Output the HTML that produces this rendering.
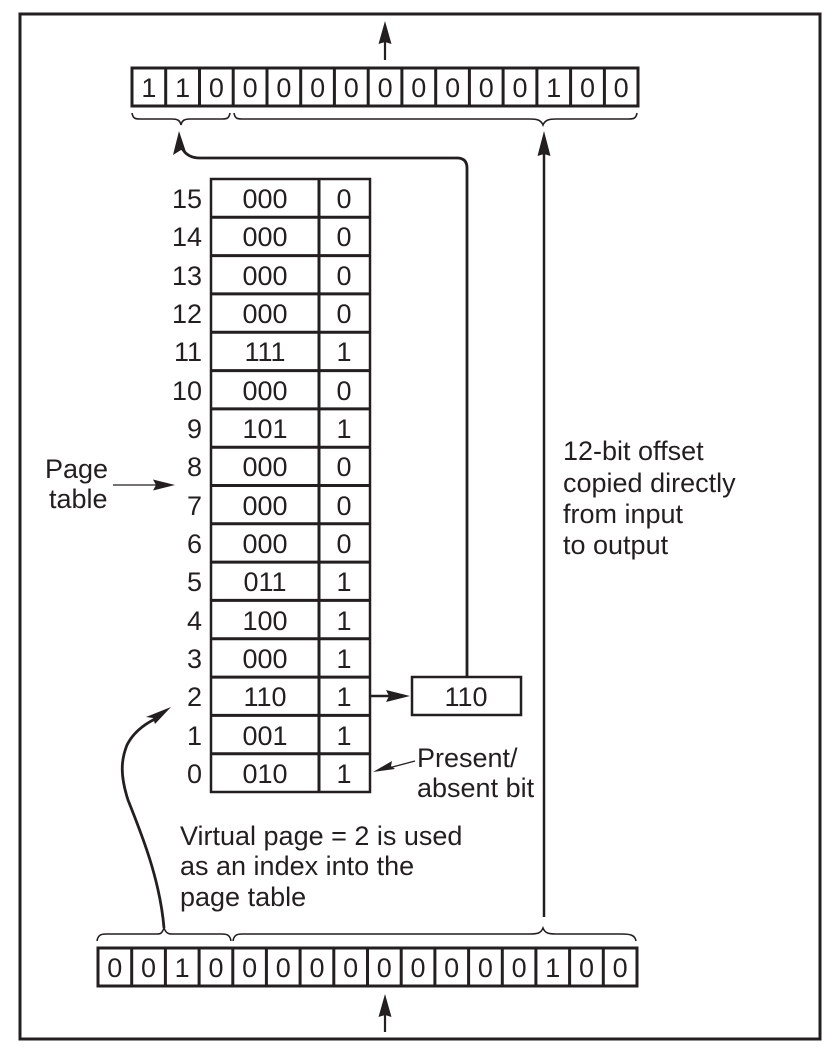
<!DOCTYPE html>
<html>
<head>
<meta charset="utf-8">
<style>
html,body{margin:0;padding:0;background:#fff;width:834px;height:1056px;overflow:hidden}
svg{display:block}
text{font-family:"Liberation Sans",sans-serif;font-size:27px;fill:#231f20}
.c{text-anchor:middle}
.r{text-anchor:end}
</style>
</head>
<body>
<svg width="834" height="1056" viewBox="0 0 834 1056" xmlns="http://www.w3.org/2000/svg">
<g fill="none" stroke="#231f20">
<rect x="20" y="14" width="800" height="1025" stroke-width="3"/>
<!-- top register -->
<rect x="132" y="68" width="506" height="38" stroke-width="3" fill="#fff"/>
<path stroke-width="3" d="M165.700 68V106M199.500 68V106M233.200 68V106M267 68V106M300.700 68V106M334.400 68V106M368.200 68V106M401.900 68V106M435.700 68V106M469.400 68V106M503.100 68V106M536.900 68V106M570.600 68V106M604.400 68V106"/>
<!-- bottom register -->
<rect x="98" y="948" width="539" height="38" stroke-width="3" fill="#fff"/>
<path stroke-width="3" d="M131.700 948V986M165.400 948V986M199.100 948V986M232.800 948V986M266.400 948V986M300.100 948V986M333.800 948V986M367.500 948V986M401.200 948V986M434.900 948V986M468.600 948V986M502.300 948V986M535.900 948V986M569.600 948V986M603.300 948V986"/>
<!-- table -->
<rect x="211" y="179" width="159" height="613" stroke-width="2.500" fill="#fff"/>
<path stroke-width="3" d="M319 179V792M211 217.300H370M211 255.600H370M211 293.900H370M211 332.300H370M211 370.600H370M211 408.900H370M211 447.200H370M211 485.500H370M211 523.800H370M211 562.100H370M211 600.400H370M211 638.800H370M211 677.100H370M211 715.400H370M211 753.700H370"/>
<rect x="412" y="677" width="109" height="38" stroke-width="2.500" fill="#fff"/>
<!-- braces -->
<path stroke-width="1.600" d="M132 113C133 119 136 119 140 119H172C177 119 180 120 181 125C182 120 185 119 190 119H222C226 119 229 119 230 113"/>
<path stroke-width="1.600" d="M234 113C235 119 238 119 242 119H530C537 119 541 120 543 125C545 120 549 119 556 119H628C633 119 636 119 637 113"/>
<path stroke-width="1.600" d="M97 941C98 935 101 934 106 934H157C161 934 162 933 164 928C166 933 168 934 172 934H222C227 934 230 935 231 941"/>
<path stroke-width="1.600" d="M233 941C234 935 237 934 242 934H530C538 934 541 933 543 928C545 933 548 934 556 934H622C630 934 635 935 636 941"/>
<!-- connectors -->
<path stroke-width="2.200" d="M385 60V40"/>
<path stroke-width="2.200" d="M385 1032V1012"/>
<path stroke-width="2.800" d="M467 677V168Q467 158 457 158H200Q187 158 182 148"/>
<path stroke-width="2.500" d="M544 917V150"/>
<path stroke-width="2.800" d="M164 928C160 880 142 835 128 800C120 775 121 760 127 745C133 733 143 725 155 719"/>
<path stroke-width="2.500" d="M371 696H395"/>
<path stroke-width="1.300" d="M113 485H160"/>
<path stroke-width="1.300" d="M415 761L385 769"/>
</g>
<g fill="#231f20" stroke="none">
<path d="M385 21L391.500 44L385 42L378.500 44Z"/>
<path d="M385 994L391.500 1017L385 1015L378.500 1017Z"/>
<path d="M544 131L550.500 156L544 154L537.500 156Z"/>
<path d="M179 131L186 152L181 150L173 155Z"/>
<path d="M410 696L386 702L389 696L386 690Z"/>
<path d="M171 707L155 724L153 718L146 717Z"/>
<path d="M175 485L153 490.500L156 485L153 479.500Z"/>
<path d="M373 772L392 761L391 766L395 769Z"/>
</g>
<g>
<text class="c" x="148.900" y="97">1</text><text class="c" x="182.600" y="97">1</text><text class="c" x="216.400" y="97">0</text><text class="c" x="250.100" y="97">0</text><text class="c" x="283.900" y="97">0</text><text class="c" x="317.600" y="97">0</text><text class="c" x="351.300" y="97">0</text><text class="c" x="385.100" y="97">0</text><text class="c" x="418.800" y="97">0</text><text class="c" x="452.600" y="97">0</text><text class="c" x="486.300" y="97">0</text><text class="c" x="520" y="97">0</text><text class="c" x="553.800" y="97">1</text><text class="c" x="587.500" y="97">0</text><text class="c" x="621.200" y="97">0</text>

<text class="c" x="114.800" y="977">0</text><text class="c" x="148.500" y="977">0</text><text class="c" x="182.200" y="977">1</text><text class="c" x="216" y="977">0</text><text class="c" x="249.600" y="977">0</text><text class="c" x="283.300" y="977">0</text><text class="c" x="317" y="977">0</text><text class="c" x="350.700" y="977">0</text><text class="c" x="384.300" y="977">0</text><text class="c" x="418" y="977">0</text><text class="c" x="451.700" y="977">0</text><text class="c" x="485.400" y="977">0</text><text class="c" x="519.100" y="977">0</text><text class="c" x="552.800" y="977">1</text><text class="c" x="586.500" y="977">0</text><text class="c" x="620.200" y="977">0</text>

<text class="r" x="202" y="208">15</text><text class="c" x="265" y="208">000</text><text class="c" x="344" y="208">0</text>
<text class="r" x="202" y="246">14</text><text class="c" x="265" y="246">000</text><text class="c" x="344" y="246">0</text>
<text class="r" x="202" y="285">13</text><text class="c" x="265" y="285">000</text><text class="c" x="344" y="285">0</text>
<text class="r" x="202" y="323">12</text><text class="c" x="265" y="323">000</text><text class="c" x="344" y="323">0</text>
<text class="r" x="202" y="361">11</text><text class="c" x="265" y="361">111</text><text class="c" x="344" y="361">1</text>
<text class="r" x="202" y="400">10</text><text class="c" x="265" y="400">000</text><text class="c" x="344" y="400">0</text>
<text class="r" x="202" y="438">9</text><text class="c" x="265" y="438">101</text><text class="c" x="344" y="438">1</text>
<text class="r" x="202" y="476">8</text><text class="c" x="265" y="476">000</text><text class="c" x="344" y="476">0</text>
<text class="r" x="202" y="515">7</text><text class="c" x="265" y="515">000</text><text class="c" x="344" y="515">0</text>
<text class="r" x="202" y="553">6</text><text class="c" x="265" y="553">000</text><text class="c" x="344" y="553">0</text>
<text class="r" x="202" y="591">5</text><text class="c" x="265" y="591">011</text><text class="c" x="344" y="591">1</text>
<text class="r" x="202" y="630">4</text><text class="c" x="265" y="630">100</text><text class="c" x="344" y="630">1</text>
<text class="r" x="202" y="668">3</text><text class="c" x="265" y="668">000</text><text class="c" x="344" y="668">1</text>
<text class="r" x="202" y="706">2</text><text class="c" x="265" y="706">110</text><text class="c" x="344" y="706">1</text>
<text class="r" x="202" y="745">1</text><text class="c" x="265" y="745">001</text><text class="c" x="344" y="745">1</text>
<text class="r" x="202" y="783">0</text><text class="c" x="265" y="783">010</text><text class="c" x="344" y="783">1</text>

<text class="c" x="466" y="706">110</text>
<text x="45" y="478">Page</text>
<text x="49" y="508">table</text>
<text x="417" y="767">Present/</text>
<text x="417" y="797">absent bit</text>
<text x="180" y="845">Virtual page = 2 is used</text>
<text x="180" y="875">as an index into the</text>
<text x="180" y="906">page table</text>
<text x="563" y="460">12-bit offset</text>
<text x="563" y="492">copied directly</text>
<text x="563" y="523">from input</text>
<text x="563" y="554">to output</text>
</g>
</svg>
</body>
</html>
